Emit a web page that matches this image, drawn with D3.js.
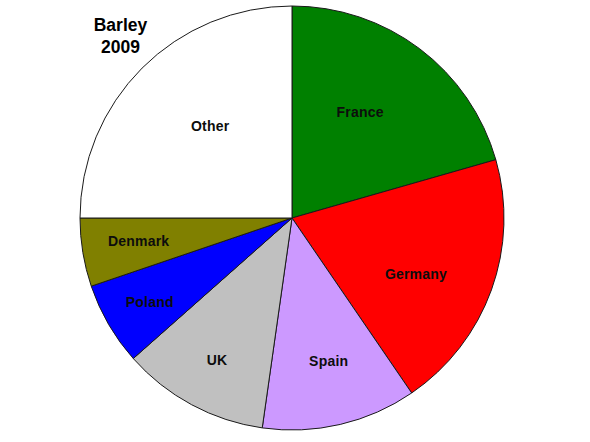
<!DOCTYPE html>
<html>
<head>
<meta charset="utf-8">
<script src="https://cdn.jsdelivr.net/npm/d3@7"></script>
<style>
  html, body { margin: 0; padding: 0; background: #ffffff; }
  svg { display: block; }
</style>
</head>
<body>
<script>
// ---- Data (barley production 2009, million tonnes) ----
const countries = ["France", "Germany", "Spain", "UK", "Poland", "Denmark", "Other"];
const production = [12.75, 12.33, 7.31, 6.96, 3.92, 3.23, 15.5];
const sliceColors = ["#008000", "#ff0000", "#cc99ff", "#c0c0c0", "#0000ff", "#808000", "#ffffff"];
const titleLines = ["Barley", "2009"];

// ---- Layout ----
const W = 590, H = 442;
const cx = 292, cy = 218, R = 212;
// label placement: radius (px) and angular nudge (deg) per slice, like Excel's label fitting
const labelLayout = [[126, -4.3], [136, 4.5], [148, -1.2], [161, -0.5], [165, -0.3], [155, 1.0], [123, 3.3]];

const svg = d3.select("body").append("svg")
  .attr("width", W).attr("height", H)
  .style("background", "#ffffff");

const data = countries.map((c, i) => ({ name: c, value: production[i], color: sliceColors[i], idx: i }));

const pie = d3.pie().value(d => d.value).sort(null).startAngle(0).endAngle(2 * Math.PI);
const arcs = pie(data);
const arc = d3.arc().innerRadius(0).outerRadius(R);

const g = svg.append("g").attr("transform", `translate(${cx},${cy})`);

g.selectAll("path.slice")
  .data(arcs)
  .join("path")
  .attr("class", "slice")
  .attr("d", arc)
  .attr("fill", d => d.data.color)
  .attr("stroke", "#1a1a1a")
  .attr("stroke-width", 1);

g.selectAll("text.lbl")
  .data(arcs)
  .join("text")
  .attr("class", "lbl")
  .attr("transform", d => {
    const [r, off] = labelLayout[d.data.idx];
    const a = (d.startAngle + d.endAngle) / 2 + off * Math.PI / 180;
    return `translate(${r * Math.sin(a)},${-r * Math.cos(a)})`;
  })
  .attr("text-anchor", "middle")
  .attr("dy", "0.36em")
  .attr("font-family", "'Liberation Sans', Arial, sans-serif")
  .attr("font-weight", "bold")
  .attr("font-size", 14)
  .attr("letter-spacing", 0.2)
  .attr("fill", "#0d0d0d")
  .text(d => d.data.name);

svg.selectAll("text.title")
  .data(titleLines)
  .join("text")
  .attr("class", "title")
  .attr("x", 120.5)
  .attr("y", (d, i) => 31 + i * 21.5)
  .attr("text-anchor", "middle")
  .attr("font-family", "'Liberation Sans', Arial, sans-serif")
  .attr("font-weight", "bold")
  .attr("font-size", 17.5)
  .attr("fill", "#000000")
  .text(d => d);
</script>
</body>
</html>
